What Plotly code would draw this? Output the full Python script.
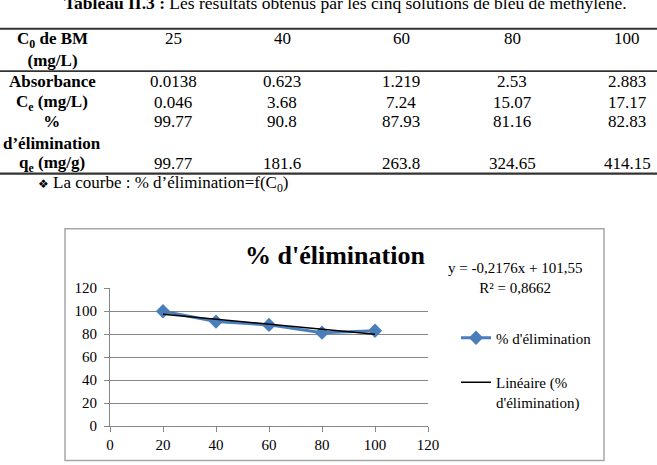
import plotly.graph_objects as go

# ---------------- data ----------------
row_labels = ["<b>C<sub>0</sub> de BM<br>(mg/L)</b>", "<b>Absorbance</b>", "<b>C<sub>e</sub> (mg/L)</b>",
              "<b>%<br>d\u2019élimination</b>", "<b>q<sub>e</sub> (mg/g)</b>"]
c0_values = ["25", "40", "60", "80", "100"]
absorbance = ["0.0138", "0.623", "1.219", "2.53", "2.883"]
ce_values = ["0.046", "3.68", "7.24", "15.07", "17.17"]
elim_values = ["99.77", "90.8", "87.93", "81.16", "82.83"]
qe_values = ["99.77", "181.6", "263.8", "324.65", "414.15"]

chart_x = [20, 40, 60, 80, 100]
chart_y = [99.77, 90.8, 87.93, 81.16, 82.83]
trend_slope = -0.2176
trend_intercept = 101.55
r_squared = "0,8662"

# ---------------- geometry helpers (pixel -> paper) ----------------
W, H = 657, 465
PL, PR, PT, PB = 110, 428, 288, 428


def px2x(x):
    return (x - PL) / (PR - PL)


def px2y(y):
    return (PB - y) / (PB - PT)


SERIF = "Liberation Serif"
BLUE = "#4a7ebb"

fig = go.Figure()

fig.add_trace(go.Scatter(
    x=chart_x, y=chart_y, mode="lines+markers", name="% d'élimination",
    line=dict(color=BLUE, width=3),
    marker=dict(symbol="diamond", size=11, color=BLUE),
    legendgroup="a",
))
tx = [min(chart_x), max(chart_x)]
ty = [trend_slope * v + trend_intercept for v in tx]
fig.add_trace(go.Scatter(
    x=tx, y=ty, mode="lines", name="Linéaire (%<br>d'élimination)",
    line=dict(color="black", width=1.5), legendgroup="b",
))

shapes = []
ann = []

# chart outer box
shapes.append(dict(type="rect", xref="paper", yref="paper",
                   x0=px2x(65), x1=px2x(604), y0=px2y(463), y1=px2y(228),
                   line=dict(color="#a6a6a6", width=1.5)))

# table rules
for yy, w in [(25, 1.8), (68, 1.8), (172, 2.2)]:
    shapes.append(dict(type="line", xref="paper", yref="paper",
                       x0=px2x(0), x1=px2x(657), y0=px2y(yy), y1=px2y(yy),
                       line=dict(color="#333333", width=w)))

TFS = 17
# caption (cut at top)
ann.append(dict(text="<b>Tableau II.3 :</b> Les résultats obtenus par les cinq solutions de bleu de méthylène.",
                x=px2x(345), y=px2y(-1), xref="paper", yref="paper", showarrow=False,
                xanchor="center", yanchor="middle", font=dict(family=SERIF, size=17.5, color="black")))

col_x = [173, 282, 401, 512, 627]
label_x = 52
row_y = [35, 79, 100, 119, 162]
label_y = [46, 79, 100, 130, 162]
rows = [c0_values, absorbance, ce_values, elim_values, qe_values]

for lab, ly in zip(row_labels, label_y):
    ann.append(dict(text=lab, x=px2x(label_x), y=px2y(ly), xref="paper", yref="paper",
                    showarrow=False, xanchor="center", yanchor="middle",
                    font=dict(family=SERIF, size=TFS, color="black")))
for vals, ry in zip(rows, row_y):
    for v, cx in zip(vals, col_x):
        ann.append(dict(text=v, x=px2x(cx), y=px2y(ry), xref="paper", yref="paper",
                        showarrow=False, xanchor="center", yanchor="middle",
                        font=dict(family=SERIF, size=TFS, color="black")))

# bullet line
ann.append(dict(text="\u2756", x=px2x(43), y=px2y(182), xref="paper", yref="paper",
                showarrow=False, xanchor="center", yanchor="middle",
                font=dict(family="DejaVu Sans", size=12, color="black")))
ann.append(dict(text="La courbe : % d\u2019élimination=f(C<sub>0</sub>)", x=px2x(51), y=px2y(182),
                xref="paper", yref="paper", showarrow=False, xanchor="left", yanchor="middle",
                font=dict(family=SERIF, size=TFS, color="black")))

# chart title
ann.append(dict(text="<b>% d'élimination</b>", x=px2x(335), y=px2y(255), xref="paper", yref="paper",
                showarrow=False, xanchor="center", yanchor="middle",
                font=dict(family=SERIF, size=26, color="black")))

# trendline equation
eq = "y = %sx + %s" % (str(trend_slope).replace(".", ","), str(trend_intercept).replace(".", ","))
ann.append(dict(text=eq + "<br>R² = " + r_squared, x=px2x(515), y=px2y(278), xref="paper", yref="paper",
                showarrow=False, xanchor="center", yanchor="middle", align="center",
                font=dict(family=SERIF, size=15, color="black")))

fig.update_layout(
    width=W, height=H,
    margin=dict(l=PL, r=W - PR, t=PT, b=H - PB, pad=0),
    paper_bgcolor="white", plot_bgcolor="white",
    shapes=shapes, annotations=ann,
    showlegend=True,
    legend=dict(x=px2x(456), y=px2y(322), xanchor="left", yanchor="top",
                font=dict(family=SERIF, size=15, color="black"),
                tracegroupgap=22, valign="top", bgcolor="rgba(0,0,0,0)"),
    font=dict(family=SERIF, size=15, color="black"),
)
fig.update_xaxes(range=[0, 120], dtick=20, tick0=0, showgrid=False, zeroline=False,
                 showline=True, linecolor="#878787", linewidth=1,
                 ticks="outside", ticklen=5, tickcolor="#878787",
                 tickfont=dict(family=SERIF, size=15, color="black"), fixedrange=True)
fig.update_yaxes(range=[0, 120], dtick=20, tick0=0, showgrid=True, gridcolor="#878787", gridwidth=1,
                 zeroline=False, showline=True, linecolor="#878787", linewidth=1,
                 ticks="outside", ticklen=5, tickcolor="#878787", ticklabelstandoff=4,
                 tickfont=dict(family=SERIF, size=15, color="black"), fixedrange=True)

fig.write_html("out.html")
